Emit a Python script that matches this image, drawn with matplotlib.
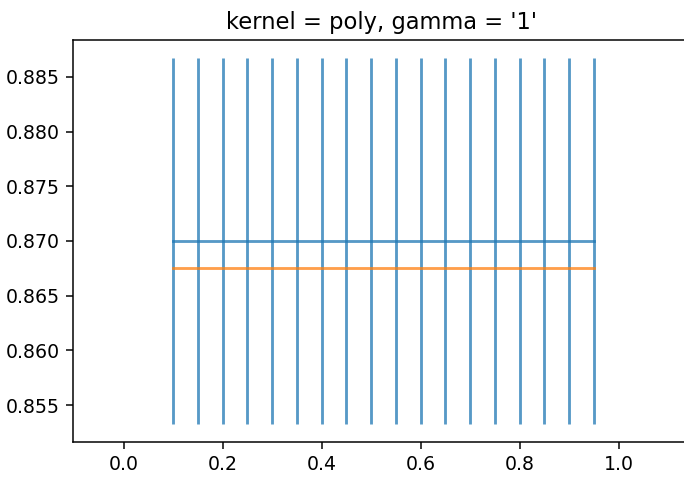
## imports
import matplotlib
matplotlib.use("Agg")
import matplotlib.pyplot as plt

## parameter grid and cross-validation scores
c_values = [0.10, 0.15, 0.20, 0.25, 0.30, 0.35, 0.40, 0.45, 0.50,
            0.55, 0.60, 0.65, 0.70, 0.75, 0.80, 0.85, 0.90, 0.95]
mean_scores = [0.8700] * len(c_values)
std_scores = [0.0167] * len(c_values)
test_scores = [0.8675] * len(c_values)

kernel = "poly"
gamma = "1"

DPI = 136
fig = plt.figure(figsize=(684 / DPI, 477 / DPI), dpi=DPI)
## axes run past the right edge of the figure
ax = fig.add_axes([73 / 684, 35 / 477, 616 / 684, 402 / 477])

## mean score with std error bars
ax.errorbar(c_values, mean_scores, yerr=std_scores, alpha=0.75)
## held-out score
ax.plot(c_values, test_scores, alpha=0.75)

ax.set_xlim(-0.102, 1.142)
ax.set_yticks([0.855, 0.860, 0.865, 0.870, 0.875, 0.880, 0.885])
ax.set_title(f"kernel = {kernel}, gamma = '{gamma}'")

fig.savefig("out.png", dpi=DPI)
